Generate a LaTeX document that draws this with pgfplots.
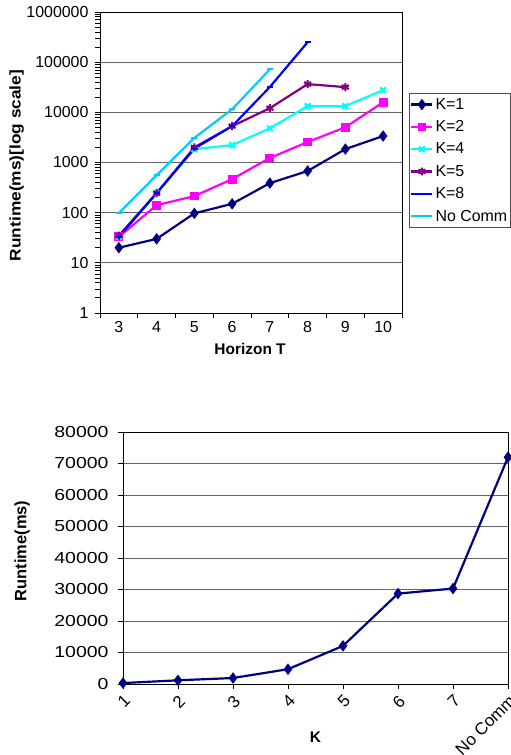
\documentclass[border=0pt]{standalone}
\usepackage{fontspec}
\setmainfont{Liberation Sans}
\usepackage{pgfplots}
\pgfplotsset{compat=1.18}

\definecolor{kone}{RGB}{0,0,128}
\definecolor{ktwo}{RGB}{255,0,255}
\definecolor{kfour}{RGB}{0,255,255}
\definecolor{kfive}{RGB}{128,0,128}
\definecolor{keight}{RGB}{0,0,255}
\definecolor{nocomm}{RGB}{0,204,255}
\definecolor{gridc}{RGB}{100,100,100}

\newcommand{\tickfont}{\fontsize{16}{19}\selectfont}
\newcommand{\labfont}{\fontsize{15.5}{18}\selectfont\bfseries}

\pgfplotsset{
  common/.style={
    scale only axis,
    /pgf/number format/assume math mode=true,
    tick label style={font=\tickfont},
    label style={font=\labfont},
    axis line style={black, line width=0.9pt},
    ymajorgrids,
    grid style={gridc, line width=0.8pt},
    tick style={black, line width=0.8pt},
    tick align=outside,
    major tick length=5bp,
    ytick pos=left,
    xtick pos=lower,
    every axis plot/.append style={line width=2.2pt},
  },
  legend image code/.code={%
    \draw[mark repeat=2, mark phase=2, #1] plot coordinates {(0bp,0bp) (10.5bp,0bp) (21bp,0bp)};},
}

\begin{document}
\begin{tikzpicture}
\useasboundingbox (0,0) rectangle (511bp,755bp);

% top: runtime vs horizon (log scale)
\begin{axis}[
  common,
  at={(100bp,442bp)}, anchor=south west,
  width=302bp, height=301bp,
  ymode=log, ymin=1, ymax=1000000,
  ytick={1,10,100,1000,10000,100000,1000000},
  yticklabels={1,10,100,1000,10000,100000,1000000},
  y tick label style={xshift=-3bp},
  xmin=2.5, xmax=10.5,
  xtick={3,...,10},
  major x tick style={draw=none},
  minor xtick={2.5,3.5,...,10.5},
  minor tick length=5bp,
  xlabel={Horizon T},
  ylabel={\scalebox{1.12}[1]{Runtime(ms)[log scale]}},
  x label style={at={(axis description cs:0.497,-0.12)}, anchor=center},
  y label style={at={(axis description cs:-0.276,0.49)}, anchor=center},
  legend style={at={(1.023,0.731)}, anchor=north west, draw=black!70, line width=0.8pt,
    font=\tickfont, row sep=5.8bp, inner xsep=1bp, inner ysep=3bp},
  legend cell align=left,
]
\addplot[kone, mark=diamond*, mark size=4pt] coordinates
  {(3,20) (4,30) (5,97) (6,150) (7,388) (8,676) (9,1850) (10,3370)};
\addplot[ktwo, mark=square*, mark size=3.3pt] coordinates
  {(3,33) (4,141) (5,214) (6,465) (7,1230) (8,2560) (9,5040) (10,15900)};
\addplot[kfour, mark=x, mark size=4pt] coordinates
  {(3,33) (4,245) (5,1850) (6,2220) (7,4800) (8,13300) (9,13300) (10,27700)};
\addplot[kfive, mark=asterisk, mark size=4pt] coordinates
  {(3,35) (4,245) (5,2000) (6,5300) (7,12100) (8,36500) (9,31800)};
\addplot[keight, mark=-, mark size=3pt] coordinates
  {(3,33) (4,245) (5,1900) (6,5300) (7,32000) (8,250000)};
\addplot[nocomm, mark=-, mark size=3pt] coordinates
  {(3,98) (4,560) (5,3100) (6,11500) (7,72000)};
\legend{K=1, K=2, K=4, K=5, K=8, No Comm}
\end{axis}

% bottom: runtime vs K at T=7
\begin{axis}[
  common,
  at={(123bp,71bp)}, anchor=south west,
  width=385bp, height=252bp,
  clip=false,
  ymin=0, ymax=80000,
  ytick={0,10000,...,80000},
  scaled y ticks=false,
  /pgf/number format/1000 sep={},
  yticklabel={\scalebox{1.22}[1]{\pgfmathprintnumber{\tick}}},
  y tick label style={xshift=-6bp},
  xmin=0, xmax=7,
  xtick={0,...,7},
  xticklabels={1,2,3,4,5,6,7,No Comm},
  x tick label style={rotate=45, anchor=north east, font=\fontsize{17}{20}\selectfont},
  xlabel={K},
  ylabel={\fontsize{16.5}{19}\selectfont Runtime(ms)},
  x label style={at={(axis description cs:0.5,-0.21)}, anchor=center},
  y label style={at={(axis description cs:-0.262,0.528)}, anchor=center},
]
\addplot[kone, mark=diamond*, mark size=4pt] coordinates
  {(0,300) (1,1170) (2,1900) (3,4700) (4,12100) (5,28700) (6,30300) (7,72000)};
\end{axis}
\end{tikzpicture}
\end{document}
